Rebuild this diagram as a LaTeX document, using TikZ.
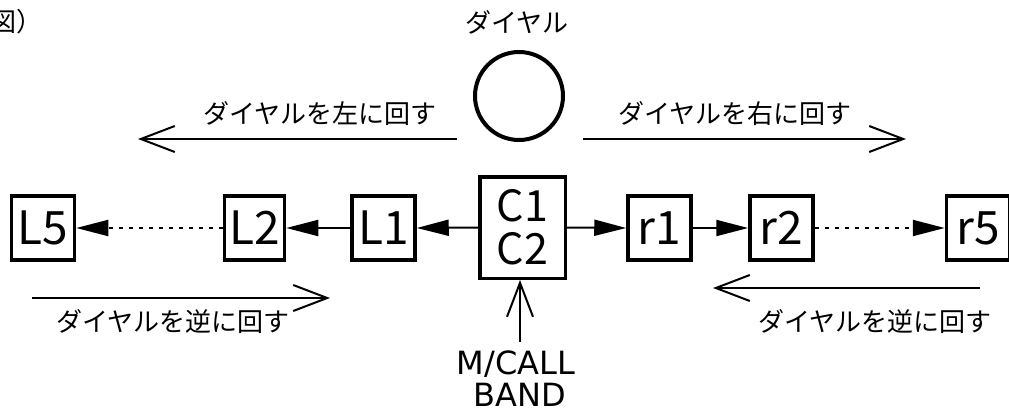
\documentclass[tikz,border=0pt]{standalone}
\usepackage{fontspec}
\setmainfont{Noto Sans CJK JP}
\newfontfamily\latfont{DejaVu Sans}
\usetikzlibrary{arrows.meta}
\begin{document}
\begin{tikzpicture}[x=1pt,y=-1pt,
  box/.style={draw,line width=3.5pt,minimum width=63pt,minimum height=64pt,inner sep=0pt,font=\fontsize{46}{46}\selectfont},
  jp/.style={font=\fontsize{26}{30}\selectfont,inner sep=0pt},
  lat/.style={font=\latfont\fontsize{32}{36}\selectfont,inner sep=0pt},
  fillarrow/.style={line width=2pt,-{Triangle[length=32pt,width=16pt]}},
  openarrow/.style={line width=2pt,-{Straight Barb[length=34pt,width=26pt,line width=2pt]}},
  dotline/.style={dash pattern=on 4pt off 6pt}
]
\useasboundingbox (0,0) rectangle (1009,412);
% title fragment
\node[jp, anchor=west] (fig) at (-10,22) {図）};
% dial
\node[jp] (dialtxt) at (517,22) {ダイヤル};
\node[draw, circle, line width=4pt, minimum size=88pt, inner sep=0pt] (dial) at (519,96) {};
% top arrows
\node[jp] (lefttxt) at (320,114) {ダイヤルを左に回す};
\node[jp] (righttxt) at (735,114) {ダイヤルを右に回す};
\coordinate (tla) at (457,139);
\coordinate (tlb) at (138,139);
\coordinate (tra) at (583,139);
\coordinate (trb) at (906,139);
\draw[openarrow] (tla) -- (tlb);
\draw[openarrow] (tra) -- (trb);
% boxes
\node[box] (L5) at (43,228) {L5};
\node[box, minimum width=60pt] (L2) at (254.5,228) {L2};
\node[box] (L1) at (383.5,228) {L1};
\node[box, minimum width=85.5pt, minimum height=101.5pt, align=center, font=\fontsize{43}{43}\selectfont] (C) at (522.5,227.5) {C1\\C2};
\node[box] (r1) at (659.5,228) {r1};
\node[box] (r2) at (781.5,228) {r2};
\node[box] (r5) at (978,228) {r5};
% connectors
\draw[fillarrow] (C.west) -- (L1.east);
\draw[fillarrow] (L1.west) -- (L2.east);
\draw[fillarrow, dotline] (L2.west) -- (L5.east);
\draw[fillarrow] (C.east) -- (r1.west);
\draw[fillarrow] (r1.east) -- (r2.west);
\draw[fillarrow, dotline] (r2.east) -- (r5.west);
% bottom arrows
\coordinate (bla) at (32,298);
\coordinate (blb) at (330,298);
\coordinate (bra) at (980,288);
\coordinate (brb) at (713,288);
\draw[openarrow] (bla) -- (blb);
\draw[openarrow] (bra) -- (brb);
\node[jp] (bltxt) at (173,322) {ダイヤルを逆に回す};
\node[jp] (brtxt) at (875,322) {ダイヤルを逆に回す};
% M/CALL BAND
\node[lat, anchor=base] (mcall) at (516,374) {M/CALL};
\node[lat, anchor=base] (band) at (520,406) {BAND};
\coordinate (mc) at (520,342);
\draw[openarrow] (mc) -- (mc |- C.south);
\end{tikzpicture}
\end{document}
